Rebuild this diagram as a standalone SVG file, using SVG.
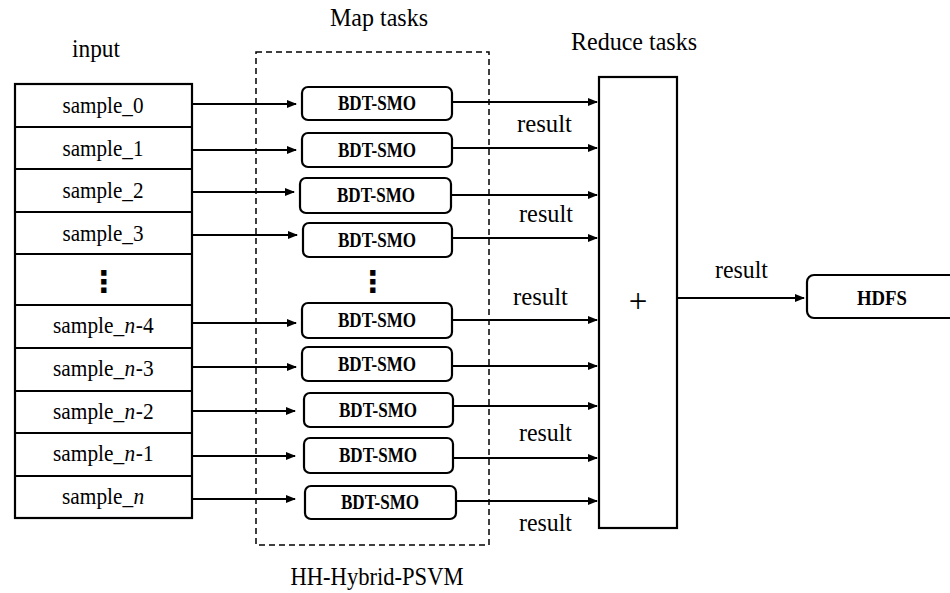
<svg xmlns="http://www.w3.org/2000/svg" width="950" height="593" viewBox="0 0 950 593">
<defs>
<style>
text{font-family:'Liberation Serif','Times New Roman',serif;fill:#000}
.lab{font-size:23px;text-anchor:middle}
.lp{font-size:23px}
.it{font-size:23px;font-style:italic}
.bd{font-size:20px;font-weight:bold;text-anchor:middle}
.res{font-size:25px}
.ttl{font-size:25px;text-anchor:middle}
.box{fill:#fff;stroke:#000;stroke-width:2.2}
.rb{fill:#fff;stroke:#000;stroke-width:2.2}
.ln{stroke:#000;stroke-width:2;fill:none}
.dots{font-family:'DejaVu Sans',sans-serif;font-size:30px;font-weight:bold;text-anchor:middle}
</style>
<marker id="ah" markerWidth="10" markerHeight="8" refX="9" refY="4" orient="auto" markerUnits="userSpaceOnUse">
<path d="M0,0 L10,4 L0,8 Z" fill="#000"/>
</marker>
</defs>
<rect width="950" height="593" fill="#fff"/>

<g id="titles">
<text class="ttl" x="379" y="26" textLength="98" lengthAdjust="spacingAndGlyphs">Map tasks</text>
<text class="ttl" x="96" y="57" textLength="48" lengthAdjust="spacingAndGlyphs">input</text>
<text class="ttl" x="634" y="50" textLength="126" lengthAdjust="spacingAndGlyphs">Reduce tasks</text>
<text class="ttl" x="377" y="585" textLength="173" lengthAdjust="spacingAndGlyphs">HH-Hybrid-PSVM</text>
</g>

<g id="map-group">
<rect x="256" y="52" width="233" height="493" fill="none" stroke="#000" stroke-width="1.5" stroke-dasharray="6,4"/>
</g>

<g id="input">
<rect class="box" x="15" y="84" width="177" height="434"/>
<g stroke="#000" stroke-width="2.2">
<line x1="15" y1="127" x2="192" y2="127"/>
<line x1="15" y1="169" x2="192" y2="169"/>
<line x1="15" y1="212" x2="192" y2="212"/>
<line x1="15" y1="254" x2="192" y2="254"/>
<line x1="15" y1="305" x2="192" y2="305"/>
<line x1="15" y1="348" x2="192" y2="348"/>
<line x1="15" y1="391" x2="192" y2="391"/>
<line x1="15" y1="433" x2="192" y2="433"/>
<line x1="15" y1="476" x2="192" y2="476"/>
</g>
<text class="lab" x="103" y="113" textLength="81" lengthAdjust="spacingAndGlyphs">sample_0</text>
<text class="lab" x="103" y="156" textLength="81" lengthAdjust="spacingAndGlyphs">sample_1</text>
<text class="lab" x="103" y="198" textLength="81" lengthAdjust="spacingAndGlyphs">sample_2</text>
<text class="lab" x="103" y="241" textLength="81" lengthAdjust="spacingAndGlyphs">sample_3</text>
<text class="dots" x="104" y="292">⋮</text>
<g transform="translate(53,333) scale(0.93,1)"><text class="lp" x="0" y="0">sample_</text><text class="it" x="77" y="0">n</text><text class="lp" x="89" y="0">-4</text></g>
<g transform="translate(53,376) scale(0.93,1)"><text class="lp" x="0" y="0">sample_</text><text class="it" x="77" y="0">n</text><text class="lp" x="89" y="0">-3</text></g>
<g transform="translate(53,419) scale(0.93,1)"><text class="lp" x="0" y="0">sample_</text><text class="it" x="77" y="0">n</text><text class="lp" x="89" y="0">-2</text></g>
<g transform="translate(53,461) scale(0.93,1)"><text class="lp" x="0" y="0">sample_</text><text class="it" x="77" y="0">n</text><text class="lp" x="89" y="0">-1</text></g>
<g transform="translate(62,504) scale(0.93,1)"><text class="lp" x="0" y="0">sample_</text><text class="it" x="77" y="0">n</text></g>
</g>

<g id="map1"><rect class="rb" x="302" y="87" width="150" height="33" rx="6"/><text class="bd" x="377" y="110" textLength="78" lengthAdjust="spacingAndGlyphs">BDT-SMO</text></g>
<g id="map2"><rect class="rb" x="302" y="133" width="150" height="34" rx="6"/><text class="bd" x="377" y="157" textLength="78" lengthAdjust="spacingAndGlyphs">BDT-SMO</text></g>
<g id="map3"><rect class="rb" x="300" y="178" width="151" height="35" rx="6"/><text class="bd" x="376" y="202" textLength="78" lengthAdjust="spacingAndGlyphs">BDT-SMO</text></g>
<g id="map4"><rect class="rb" x="303" y="223" width="149" height="34" rx="6"/><text class="bd" x="377" y="247" textLength="78" lengthAdjust="spacingAndGlyphs">BDT-SMO</text></g>
<text class="dots" x="373" y="292">⋮</text>
<g id="map5"><rect class="rb" x="302" y="303" width="150" height="35" rx="6"/><text class="bd" x="377" y="327" textLength="78" lengthAdjust="spacingAndGlyphs">BDT-SMO</text></g>
<g id="map6"><rect class="rb" x="302" y="347" width="150" height="34" rx="6"/><text class="bd" x="377" y="371" textLength="78" lengthAdjust="spacingAndGlyphs">BDT-SMO</text></g>
<g id="map7"><rect class="rb" x="304" y="393" width="149" height="34" rx="6"/><text class="bd" x="378" y="417" textLength="78" lengthAdjust="spacingAndGlyphs">BDT-SMO</text></g>
<g id="map8"><rect class="rb" x="304" y="438" width="149" height="35" rx="6"/><text class="bd" x="378" y="462" textLength="78" lengthAdjust="spacingAndGlyphs">BDT-SMO</text></g>
<g id="map9"><rect class="rb" x="305" y="486" width="151" height="33" rx="6"/><text class="bd" x="380" y="509" textLength="78" lengthAdjust="spacingAndGlyphs">BDT-SMO</text></g>

<g id="reduce">
<rect class="box" x="599" y="77" width="78" height="451"/>
<text x="638" y="312" font-size="33" text-anchor="middle">+</text>
</g>

<g id="hdfs">
<rect class="rb" x="807" y="275" width="150" height="43" rx="7"/>
<text x="882" y="305" font-size="21" font-weight="bold" text-anchor="middle" textLength="50" lengthAdjust="spacingAndGlyphs">HDFS</text>
</g>

<g id="connectors">
<line class="ln" marker-end="url(#ah)" x1="192" y1="104" x2="296" y2="104"/>
<line class="ln" marker-end="url(#ah)" x1="192" y1="150" x2="296" y2="150"/>
<line class="ln" marker-end="url(#ah)" x1="192" y1="192" x2="294" y2="192"/>
<line class="ln" marker-end="url(#ah)" x1="192" y1="235" x2="297" y2="235"/>
<line class="ln" marker-end="url(#ah)" x1="192" y1="323" x2="296" y2="323"/>
<line class="ln" marker-end="url(#ah)" x1="192" y1="367" x2="296" y2="367"/>
<line class="ln" marker-end="url(#ah)" x1="192" y1="411" x2="295" y2="411"/>
<line class="ln" marker-end="url(#ah)" x1="192" y1="456" x2="295" y2="456"/>
<line class="ln" marker-end="url(#ah)" x1="192" y1="499" x2="295" y2="499"/>

<line class="ln" marker-end="url(#ah)" x1="452" y1="102" x2="597" y2="102"/>
<line class="ln" marker-end="url(#ah)" x1="452" y1="148" x2="597" y2="148"/>
<line class="ln" marker-end="url(#ah)" x1="451" y1="195" x2="597" y2="195"/>
<line class="ln" marker-end="url(#ah)" x1="452" y1="238" x2="597" y2="238"/>
<line class="ln" marker-end="url(#ah)" x1="452" y1="320" x2="597" y2="320"/>
<line class="ln" marker-end="url(#ah)" x1="452" y1="366" x2="597" y2="366"/>
<line class="ln" marker-end="url(#ah)" x1="453" y1="406" x2="597" y2="406"/>
<line class="ln" marker-end="url(#ah)" x1="453" y1="458" x2="597" y2="458"/>
<line class="ln" marker-end="url(#ah)" x1="456" y1="501" x2="597" y2="501"/>

<line class="ln" marker-end="url(#ah)" x1="677" y1="298" x2="804" y2="298"/>

<text class="res" x="517" y="132" textLength="55" lengthAdjust="spacingAndGlyphs">result</text>
<text class="res" x="519" y="222" textLength="54" lengthAdjust="spacingAndGlyphs">result</text>
<text class="res" x="513" y="305" textLength="55" lengthAdjust="spacingAndGlyphs">result</text>
<text class="res" x="519" y="441" textLength="53" lengthAdjust="spacingAndGlyphs">result</text>
<text class="res" x="519" y="531" textLength="53" lengthAdjust="spacingAndGlyphs">result</text>
<text class="res" x="715" y="278" textLength="53" lengthAdjust="spacingAndGlyphs">result</text>
</g>
</svg>
